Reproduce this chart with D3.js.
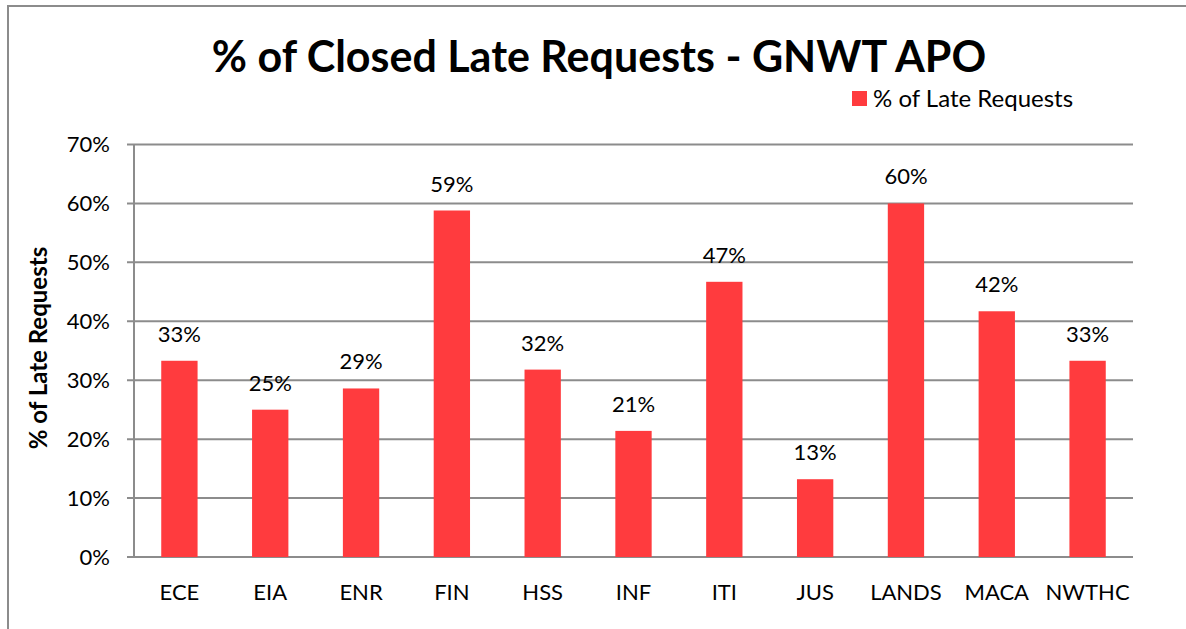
<!DOCTYPE html>
<html><head><meta charset="utf-8">
<script src="https://cdn.jsdelivr.net/npm/d3@7"></script>
<style>body{margin:0;background:#fff;overflow:hidden}svg{display:block}text{font-family:Lato,"Open Sans",sans-serif}</style>
</head><body><svg id="c" width="1186" height="629"></svg>
<script>
const categories = ["ECE","EIA","ENR","FIN","HSS","INF","ITI","JUS","LANDS","MACA","NWTHC"];
const values = [33.3,25.0,28.6,58.8,31.8,21.4,46.7,13.2,60.0,41.7,33.3];
const yTicks = [0,10,20,30,40,50,60,70];
const title = "% of Closed Late Requests - GNWT APO";
const seriesName = "% of Late Requests";
const yTitle = "% of Late Requests";

(function(){
const svg = d3.select("#c");
const red = "#FF3B3E", grid = "#8c8c8c";
svg.append("path").attr("d","M8,629V6H1186")
  .attr("fill","none").attr("stroke","#8c8c8c").attr("stroke-width",2);

const pLeft=134, pRight=1133, pTop=144.5, pBottom=557;
const x = d3.scaleBand().domain(categories).range([pLeft,pRight]).paddingInner(0.6).paddingOuter(0.3);
const y = d3.scaleLinear().domain([0,70]).range([pBottom,pTop]);

svg.append("g").selectAll("line").data(yTicks).join("line")
  .attr("x1",pLeft-7).attr("x2",pRight).attr("y1",d=>y(d)).attr("y2",d=>y(d))
  .attr("stroke",grid).attr("stroke-width",2);
svg.append("line").attr("x1",pLeft).attr("x2",pLeft).attr("y1",pTop).attr("y2",pBottom)
  .attr("stroke",grid).attr("stroke-width",2);

svg.append("g").selectAll("text").data(yTicks).join("text")
  .attr("x",pLeft-24).attr("y",d=>y(d)).attr("dy","0.36em").attr("text-anchor","end")
  .attr("font-size",22).attr("fill","#000").text(d=>d+"%");

svg.append("g").selectAll("rect").data(values).join("rect")
  .attr("x",(d,i)=>x(categories[i])).attr("width",x.bandwidth())
  .attr("y",d=>y(d)).attr("height",d=>pBottom-y(d)).attr("fill",red);

svg.append("g").selectAll("text").data(values).join("text")
  .attr("x",(d,i)=>x(categories[i])+x.bandwidth()/2).attr("y",d=>y(d)-19)
  .attr("text-anchor","middle").attr("font-size",22).attr("fill","#000")
  .text(d=>Math.round(d)+"%");

svg.append("g").selectAll("text").data(categories).join("text")
  .attr("x",d=>x(d)+x.bandwidth()/2).attr("y",600).attr("text-anchor","middle")
  .attr("font-size",22).attr("fill","#000").text(d=>d);

svg.append("text").attr("x",599).attr("y",72).attr("text-anchor","middle")
  .attr("font-size",43).attr("font-weight","bold").attr("fill","#000").text(title);

svg.append("rect").attr("x",852).attr("y",91).attr("width",15).attr("height",15).attr("fill",red);
svg.append("text").attr("x",873).attr("y",107).attr("font-size",24).attr("fill","#000").text(seriesName);

svg.append("text").attr("transform","translate(47,348) rotate(-90)").attr("text-anchor","middle")
  .attr("font-size",24).attr("font-weight","bold").attr("fill","#000").text(yTitle);
})();
</script></body></html>
